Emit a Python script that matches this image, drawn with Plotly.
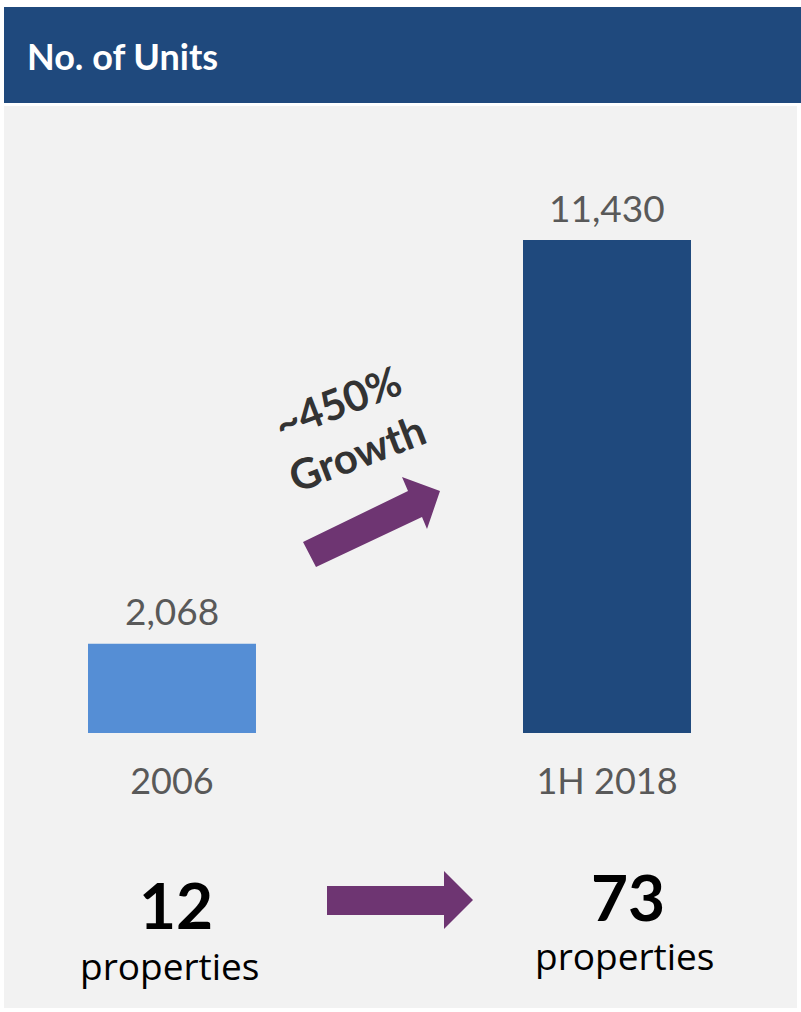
import plotly.graph_objects as go

# --- data ---------------------------------------------------------------
categories = ["2006", "1H 2018"]
units = [2068, 11430]
bar_colors = ["#558ED5", "#1F497D"]
property_counts = [12, 73]
growth_text = "~450%<br>Growth"
title_text = "No. of Units"

# --- canvas geometry (pixels) -------------------------------------------
W, H = 801, 1012
M_L, M_R, M_T, M_B = 4, 4, 106, 279
PW = W - M_L - M_R
PH = H - M_T - M_B


def px(x):
    """pixel column -> paper x"""
    return (x - M_L) / PW


def py(y):
    """pixel row -> paper y"""
    return (H - M_B - y) / PH


FONT = "Lato"
GREY_TXT = "#595959"
PURPLE = "#6E3572"

fig = go.Figure()
fig.add_trace(
    go.Bar(
        x=categories,
        y=units,
        marker=dict(color=bar_colors, line=dict(width=0)),
        width=0.3862,
        hoverinfo="skip",
    )
)

annotations = []
# value labels above bars (category index as x position)
for i, v in enumerate(units):
    annotations.append(
        dict(
            x=i, y=v, xref="x", yref="y", text=f"{v:,}", showarrow=False,
            yanchor="middle", yshift=33,
            font=dict(family=FONT, size=37, color=GREY_TXT),
        )
    )

# header title
annotations.append(
    dict(
        x=px(25), y=py(56), xref="paper", yref="paper", text=f"<b>{title_text}</b>",
        showarrow=False, xanchor="left", yanchor="middle",
        font=dict(family=FONT, size=36, color="white"),
    )
)

# growth callout
annotations.append(
    dict(
        x=px(347), y=py(427), xref="paper", yref="paper", text=f"<b>{growth_text}</b>",
        showarrow=False, xanchor="center", yanchor="middle", textangle=-21,
        font=dict(family=FONT, size=42, color="#333333"),
    )
)

# property counts under each period
count_pos = [(176, 904, 170, 966), (628, 897, 625, 955)]
for n, (nx, ny, lx, ly) in zip(property_counts, count_pos):
    annotations.append(
        dict(
            x=px(nx), y=py(ny), xref="paper", yref="paper", text=f"<b>{n}</b>",
            showarrow=False, xanchor="center", yanchor="middle",
            font=dict(family=FONT, size=64, color="black"),
        )
    )
    annotations.append(
        dict(
            x=px(lx), y=py(ly), xref="paper", yref="paper", text="properties",
            showarrow=False, xanchor="center", yanchor="middle",
            font=dict(family="Open Sans", size=37, color="black"),
        )
    )


def poly(points):
    return "M " + " L ".join(f"{px(x)},{py(y)}" for x, y in points) + " Z"


shapes = [
    # grey panel
    dict(type="rect", xref="paper", yref="paper", x0=px(4), x1=px(797),
         y0=py(1008), y1=py(106), fillcolor="#F2F2F2", line=dict(width=0),
         layer="below"),
    # header band
    dict(type="rect", xref="paper", yref="paper", x0=px(4), x1=px(801),
         y0=py(103), y1=py(7), fillcolor="#1F497D", line=dict(width=0),
         layer="below"),
    # diagonal growth arrow
    dict(type="path", xref="paper", yref="paper",
         path=poly([(303, 542), (408, 491), (402, 477), (440, 491),
                    (427, 529), (422, 517), (316, 567)]),
         fillcolor=PURPLE, line=dict(width=0)),
    # horizontal arrow between property counts
    dict(type="path", xref="paper", yref="paper",
         path=poly([(327, 886), (444, 886), (444, 871), (473, 900),
                    (444, 929), (444, 915), (327, 915)]),
         fillcolor=PURPLE, line=dict(width=0)),
]

fig.update_layout(
    width=W, height=H,
    margin=dict(l=M_L, r=M_R, t=M_T, b=M_B, pad=0),
    paper_bgcolor="white",
    plot_bgcolor="#F2F2F2",
    showlegend=False,
    annotations=annotations,
    shapes=shapes,
    xaxis=dict(
        type="category", range=[-0.3862, 1.4368], showgrid=False,
        zeroline=False, showline=False, ticks="", ticklabelstandoff=24,
        tickfont=dict(family=FONT, size=36, color=GREY_TXT), fixedrange=True,
    ),
    yaxis=dict(range=[0, 14537], visible=False, showgrid=False,
               zeroline=False, fixedrange=True),
)

fig.write_html("out.html", config={"displayModeBar": False})
